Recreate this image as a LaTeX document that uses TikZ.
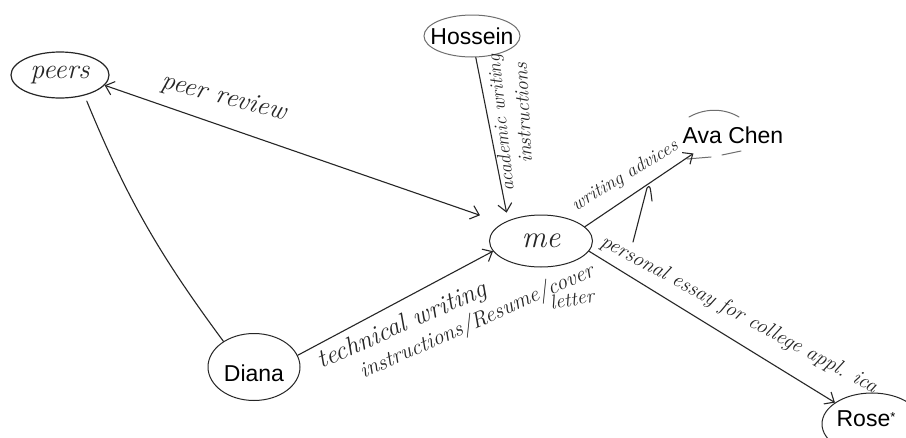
\documentclass[tikz,border=0pt]{standalone}
\usepackage{fontspec}
\newfontfamily\namefont{Liberation Sans}
\usetikzlibrary{shapes.geometric,arrows.meta,calc}
\definecolor{ink}{HTML}{262626}
\definecolor{faint}{HTML}{6E6E6E}
\begin{document}
\begin{tikzpicture}[x=1pt,y=-1pt,
  pen/.style={draw=ink, line width=1.1pt, line cap=round, line join=round},
  tip/.tip={Straight Barb[length=8pt,width=14pt,line width=1.1pt]},
  arr/.style={pen, -tip},
  twoway/.style={pen, tip-tip},
  bubble/.style={ellipse, draw=ink, line width=1pt, inner sep=0pt},
  hand/.style={text=ink, font=\itshape\fontsize{#1}{#1}\selectfont, inner sep=0pt},
  hand/.default=20,
  printed/.style={text=black, font=\namefont\fontsize{23}{24}\selectfont},
]
% canvas
\fill[white] (0,0) rectangle (906,437);
\useasboundingbox (0,0) rectangle (906,437);

% people
\node[bubble, line width=1.2pt, minimum width=98pt, minimum height=46pt, hand=28] (peers) at (60,75) {peers};
\node[bubble, draw=faint, inner xsep=-8pt, minimum width=96pt, minimum height=42pt, printed] (hossein) at (472,36) {Hossein};
\node[ellipse, inner sep=0pt, minimum width=112pt, minimum height=44pt, printed] (ava) at (733,135) {Ava Chen};
\node[bubble, minimum width=103pt, minimum height=52pt, hand=31] (me) at (541,241) {me};
\node[bubble, minimum width=92pt, minimum height=67pt, printed] (diana) at (254,367) {};
\node[printed] (dianatext) at (254,373) {Diana};
\node[bubble, minimum width=100pt, minimum height=62pt] (rose) at (872,424) {};
\node[printed] (rosetext) at (866,419) {Rose\raisebox{5pt}{\fontsize{13}{13}\selectfont*}};

% loose strokes around Ava Chen
\draw[faint, line width=1pt, line cap=round] (689,117) .. controls (705,108) and (724,108) .. (739,117);
\draw[faint, line width=1pt, line cap=round] (687,159) -- (711,157);
\draw[faint, line width=1pt, line cap=round] (722,155) -- (741,151);

% relations
\draw[twoway, shorten >=24pt] (peers.-13) -- (me.155);
\draw[pen, shorten <=6pt] (peers.-40) to[bend right=7] (diana.140);
\draw[arr, shorten >=8pt] (hossein.-80) -- (me.148);
\draw[arr] (diana.15) -- (me.192);
\draw[arr] (me.18) -- (ava.205);
\draw[arr] (me.-12) -- (rose.150);

% extra pointer towards the advice line
\coordinate (hookfoot) at (633,242);
\coordinate (hooktop) at (647,188);
\draw[pen] (hookfoot) .. controls (640,215) .. (hooktop) .. controls (650,185) .. (652,201);

% relation labels
\node[hand=27, rotate=-15] (lblpeer) at (224,98) {peer review};
\node[hand=19, rotate=96] (lblacad) at (502,123) {academic writing};
\node[hand=20, rotate=93] (lblacadb) at (523,113) {instructions};
\node[hand=19, rotate=31] (lbladv) at (625,176) {writing advices};
\node[hand=26, rotate=24] (lbltech) at (402,326) {technical writing};
\node[hand=22, rotate=24] (lblinstr) at (477,322) {instructions/Resume/cover};
\node[hand=20, rotate=10] (lbllet) at (572,299) {letter};
\node[hand=21, rotate=-28.5] (lblessay) at (739,315) {personal essay for college appl. ica};
\end{tikzpicture}
\end{document}
